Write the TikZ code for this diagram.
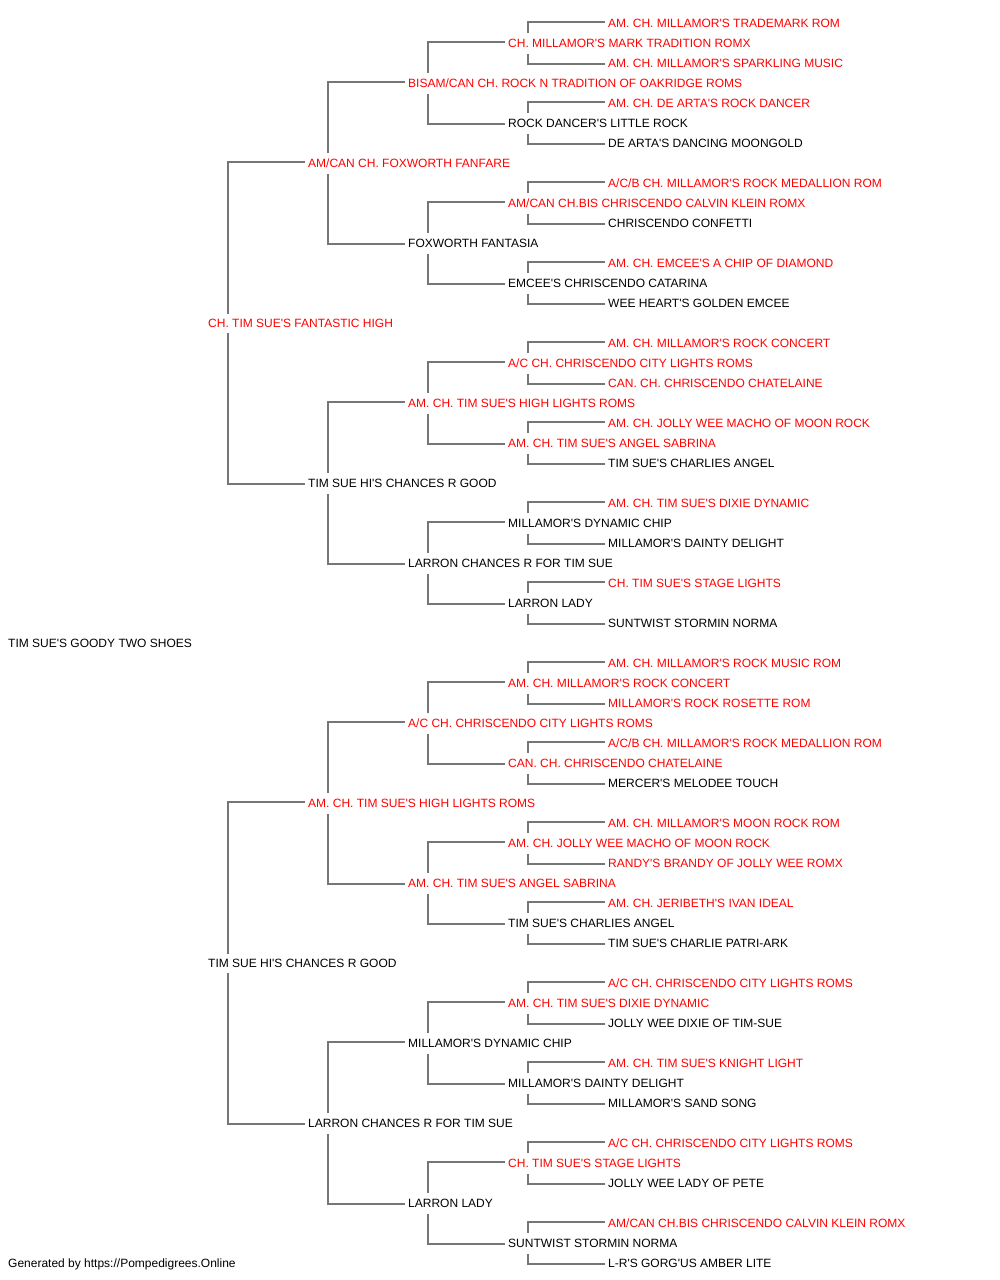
\documentclass[tikz,border=0pt]{standalone}
\usepackage{fontspec}
\setmainfont{Liberation Sans}
\definecolor{linegray}{RGB}{118,118,118}
\definecolor{chred}{RGB}{255,0,0}
\newcommand\ap{\textquotesingle{}}
\tikzset{
  dog/.style={anchor=west, inner sep=0pt, text height=8.6bp, text depth=0pt, font=\fontsize{12bp}{14bp}\selectfont},
  ch/.style={dog, text=chred},
  pl/.style={dog, text=black},
  conn/.style={draw=linegray, line width=2bp}
}
\newcommand\pnode[4]{%
  \pgfmathsetmacro\py{23.5+20*((2^(5-#1)-1)+2^(6-#1)*#2)}%
  \pgfmathsetmacro\px{#1==0 ? 8 : 108+100*#1}%
  \node[#3] (g#1-#2) at (\px, -\py) {#4};}
\begin{document}
\begin{tikzpicture}[x=1bp,y=1bp]
\useasboundingbox (0,0) rectangle (1000,-1280);
% generation 0
\pnode{0}{0}{pl}{TIM SUE\ap S GOODY TWO SHOES}
% generation 1
\pnode{1}{0}{ch}{CH. TIM SUE\ap S FANTASTIC HIGH}
\pnode{1}{1}{pl}{TIM SUE HI\ap S CHANCES R GOOD}
% generation 2
\pnode{2}{0}{ch}{AM/CAN CH. FOXWORTH FANFARE}
\pnode{2}{1}{pl}{TIM SUE HI\ap S CHANCES R GOOD}
\pnode{2}{2}{ch}{AM. CH. TIM SUE\ap S HIGH LIGHTS ROMS}
\pnode{2}{3}{pl}{LARRON CHANCES R FOR TIM SUE}
% generation 3
\pnode{3}{0}{ch}{BISAM/CAN CH. ROCK N TRADITION OF OAKRIDGE ROMS}
\pnode{3}{1}{pl}{FOXWORTH FANTASIA}
\pnode{3}{2}{ch}{AM. CH. TIM SUE\ap S HIGH LIGHTS ROMS}
\pnode{3}{3}{pl}{LARRON CHANCES R FOR TIM SUE}
\pnode{3}{4}{ch}{A/C CH. CHRISCENDO CITY LIGHTS ROMS}
\pnode{3}{5}{ch}{AM. CH. TIM SUE\ap S ANGEL SABRINA}
\pnode{3}{6}{pl}{MILLAMOR\ap S DYNAMIC CHIP}
\pnode{3}{7}{pl}{LARRON LADY}
% generation 4
\pnode{4}{0}{ch}{CH. MILLAMOR\ap S MARK TRADITION ROMX}
\pnode{4}{1}{pl}{ROCK DANCER\ap S LITTLE ROCK}
\pnode{4}{2}{ch}{AM/CAN CH.BIS CHRISCENDO CALVIN KLEIN ROMX}
\pnode{4}{3}{pl}{EMCEE\ap S CHRISCENDO CATARINA}
\pnode{4}{4}{ch}{A/C CH. CHRISCENDO CITY LIGHTS ROMS}
\pnode{4}{5}{ch}{AM. CH. TIM SUE\ap S ANGEL SABRINA}
\pnode{4}{6}{pl}{MILLAMOR\ap S DYNAMIC CHIP}
\pnode{4}{7}{pl}{LARRON LADY}
\pnode{4}{8}{ch}{AM. CH. MILLAMOR\ap S ROCK CONCERT}
\pnode{4}{9}{ch}{CAN. CH. CHRISCENDO CHATELAINE}
\pnode{4}{10}{ch}{AM. CH. JOLLY WEE MACHO OF MOON ROCK}
\pnode{4}{11}{pl}{TIM SUE\ap S CHARLIES ANGEL}
\pnode{4}{12}{ch}{AM. CH. TIM SUE\ap S DIXIE DYNAMIC}
\pnode{4}{13}{pl}{MILLAMOR\ap S DAINTY DELIGHT}
\pnode{4}{14}{ch}{CH. TIM SUE\ap S STAGE LIGHTS}
\pnode{4}{15}{pl}{SUNTWIST STORMIN NORMA}
% generation 5
\pnode{5}{0}{ch}{AM. CH. MILLAMOR\ap S TRADEMARK ROM}
\pnode{5}{1}{ch}{AM. CH. MILLAMOR\ap S SPARKLING MUSIC}
\pnode{5}{2}{ch}{AM. CH. DE ARTA\ap S ROCK DANCER}
\pnode{5}{3}{pl}{DE ARTA\ap S DANCING MOONGOLD}
\pnode{5}{4}{ch}{A/C/B CH. MILLAMOR\ap S ROCK MEDALLION ROM}
\pnode{5}{5}{pl}{CHRISCENDO CONFETTI}
\pnode{5}{6}{ch}{AM. CH. EMCEE\ap S A CHIP OF DIAMOND}
\pnode{5}{7}{pl}{WEE HEART\ap S GOLDEN EMCEE}
\pnode{5}{8}{ch}{AM. CH. MILLAMOR\ap S ROCK CONCERT}
\pnode{5}{9}{ch}{CAN. CH. CHRISCENDO CHATELAINE}
\pnode{5}{10}{ch}{AM. CH. JOLLY WEE MACHO OF MOON ROCK}
\pnode{5}{11}{pl}{TIM SUE\ap S CHARLIES ANGEL}
\pnode{5}{12}{ch}{AM. CH. TIM SUE\ap S DIXIE DYNAMIC}
\pnode{5}{13}{pl}{MILLAMOR\ap S DAINTY DELIGHT}
\pnode{5}{14}{ch}{CH. TIM SUE\ap S STAGE LIGHTS}
\pnode{5}{15}{pl}{SUNTWIST STORMIN NORMA}
\pnode{5}{16}{ch}{AM. CH. MILLAMOR\ap S ROCK MUSIC ROM}
\pnode{5}{17}{ch}{MILLAMOR\ap S ROCK ROSETTE ROM}
\pnode{5}{18}{ch}{A/C/B CH. MILLAMOR\ap S ROCK MEDALLION ROM}
\pnode{5}{19}{pl}{MERCER\ap S MELODEE TOUCH}
\pnode{5}{20}{ch}{AM. CH. MILLAMOR\ap S MOON ROCK ROM}
\pnode{5}{21}{ch}{RANDY\ap S BRANDY OF JOLLY WEE ROMX}
\pnode{5}{22}{ch}{AM. CH. JERIBETH\ap S IVAN IDEAL}
\pnode{5}{23}{pl}{TIM SUE\ap S CHARLIE PATRI-ARK}
\pnode{5}{24}{ch}{A/C CH. CHRISCENDO CITY LIGHTS ROMS}
\pnode{5}{25}{pl}{JOLLY WEE DIXIE OF TIM-SUE}
\pnode{5}{26}{ch}{AM. CH. TIM SUE\ap S KNIGHT LIGHT}
\pnode{5}{27}{pl}{MILLAMOR\ap S SAND SONG}
\pnode{5}{28}{ch}{A/C CH. CHRISCENDO CITY LIGHTS ROMS}
\pnode{5}{29}{pl}{JOLLY WEE LADY OF PETE}
\pnode{5}{30}{ch}{AM/CAN CH.BIS CHRISCENDO CALVIN KLEIN ROMX}
\pnode{5}{31}{pl}{L-R\ap S GORG\ap US AMBER LITE}
% footer
\node[pl] (footer) at (8,-1263.5) {Generated by https://Pompedigrees.Online};
% connectors
\foreach \g/\n in {1/1,2/3,3/7,4/15} {
  \foreach \i in {0,...,\n} {
    \pgfmathtruncatemacro\c{\g+1}
    \pgfmathtruncatemacro\s{2*\i}
    \pgfmathtruncatemacro\d{2*\i+1}
    \pgfmathsetmacro\gp{\g==1 ? 9.5 : 10.5}
    \draw[conn] ([shift={(-3bp,1.5bp)}]g\c-\s.west) -| ([shift={(20bp,\gp bp)}]g\g-\i.west);
    \draw[conn] ([shift={(-3bp,-0.5bp)}]g\c-\d.west) -| ([shift={(20bp,-\gp bp)}]g\g-\i.west);
  }
}
\end{tikzpicture}
\end{document}
